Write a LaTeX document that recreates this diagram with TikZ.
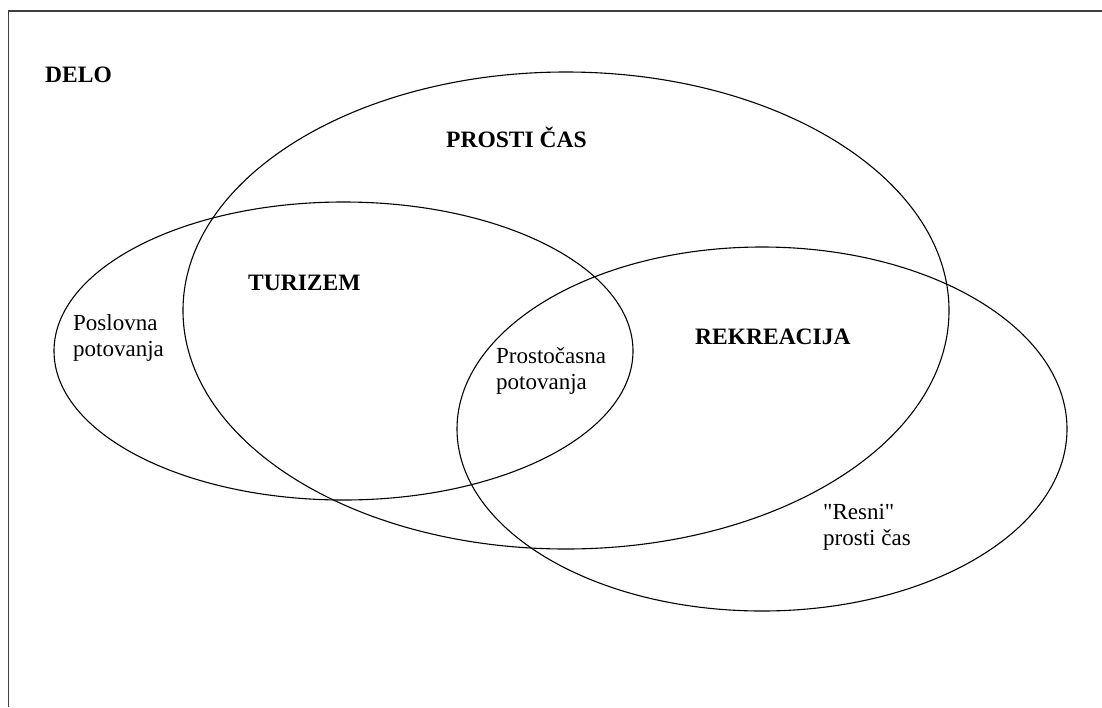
\documentclass[tikz,border=0pt]{standalone}
\usepackage{fontspec}
\setmainfont[Ligatures=TeXOff]{Liberation Serif}
\begin{document}
\begin{tikzpicture}[x=1pt,y=-1pt,
  venn/.style={draw=black,line width=1.1pt},
  frameline/.style={draw=black!75,line width=1.8pt},
  lbl/.style={inner sep=0pt,anchor=base west,align=left,font=\fontsize{23}{26}\selectfont},
  blbl/.style={lbl,font=\fontsize{23.5}{26}\selectfont\bfseries}]
\useasboundingbox (0,0) rectangle (1102,707);
\fill[white] (0,0) rectangle (1102,707);
% frame (top and left edges)
\coordinate (ftr) at (1102,11);
\coordinate (ftl) at (8.5,11);
\coordinate (fbl) at (8.5,707);
\draw[frameline] (ftr) -- (ftl) -- (fbl);
% ellipses
\draw[venn] (566,310.5) ellipse [x radius=383, y radius=238.5];
\draw[venn] (343.5,351) ellipse [x radius=289.5, y radius=149];
\draw[venn] (762,429) ellipse [x radius=305, y radius=182];
% labels
\node[blbl] (delo) at (45,82) {DELO};
\node[blbl] (prosti) at (446,147) {PROSTI ČAS};
\node[blbl] (turizem) at (248,290) {TURIZEM};
\node[blbl] (rekreacija) at (695,344) {REKREACIJA};
\node[lbl] (poslovna) at (73,356) {Poslovna\\potovanja};
\node[lbl] (prostocasna) at (496,389) {Prostočasna\\potovanja};
\node[lbl] (resni) at (823,545) {"Resni"\\prosti čas};
\end{tikzpicture}
\end{document}
